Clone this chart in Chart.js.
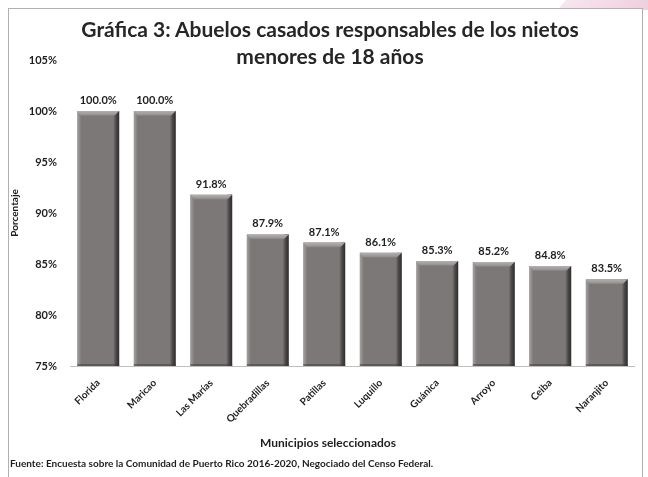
<!DOCTYPE html>
<html>
<head>
<meta charset="utf-8">
<script src="https://cdn.jsdelivr.net/npm/chart.js@4"></script>
<style>
    body { margin: 0; background: #fff; font-family: Lato, "Open Sans", sans-serif; }
    #wrap { position: relative; width: 648px; height: 477px; overflow: hidden; background: #fff; }
    #deco { position: absolute; left: 570px; top: -20px; width: 120px; height: 30px; background: linear-gradient(90deg, #f6e6ee, #eec6d8); transform: skewX(-40deg); }
    #frame { position: absolute; left: 8px; top: 8px; width: 633px; height: 480px; border: 1px solid #b0b0b0; background: #fff; }
    #title { position: absolute; left: 0; width: 660px; top: 15px; text-align: center; font-weight: bold; font-size: 21px; line-height: 27px; color: #262626; }
    #xtitle { position: absolute; left: 228px; width: 200px; top: 435px; text-align: center; font-weight: bold; font-size: 12px; color: #1e1e1e; }
    #source { position: absolute; left: 10px; top: 457px; font-weight: bold; font-size: 10px; color: #1e1e1e; }
    canvas { position: absolute; left: 0; top: 0; }
</style>
</head>
<body>
<div id="wrap">
    <div id="deco"></div>
    <div id="frame"></div>
    <canvas id="chartCanvas" width="648" height="477"></canvas>
    <div id="title">Gráfica 3: Abuelos casados responsables de los nietos<br>menores de 18 años</div>
    <div id="xtitle">Municipios seleccionados</div>
    <div id="source">Fuente: Encuesta sobre la Comunidad de Puerto Rico 2016-2020, Negociado del Censo Federal.</div>
</div>
<script>
const municipios = ["Florida", "Maricao", "Las Marías", "Quebradillas", "Patillas", "Luquillo", "Guánica", "Arroyo", "Ceiba", "Naranjito"];
const porcentajes = [100.0, 100.0, 91.8, 87.9, 87.1, 86.1, 85.3, 85.2, 84.8, 83.5];
const yTicks = [75, 80, 85, 90, 95, 100, 105];

const textColor = "#1e1e1e";

// bevel look on each bar + value labels
const barStyle = {
    id: "barStyle",
    afterDatasetsDraw(chart) {
        const ctx = chart.ctx;
        const meta = chart.getDatasetMeta(0);
        meta.data.forEach((bar, i) => {
            const left = bar.x - bar.width / 2;
            const right = bar.x + bar.width / 2;
            const top = bar.y;
            const bottom = Math.min(bar.base, chart.chartArea.bottom);
            ctx.save();
            // right dark edge
            let g = ctx.createLinearGradient(right - 6, 0, right, 0);
            g.addColorStop(0, "rgba(60,58,58,0)");
            g.addColorStop(0.5, "rgba(60,58,58,0.8)");
            g.addColorStop(1, "#2e2c2c");
            ctx.fillStyle = g;
            ctx.fillRect(right - 6, top, 6, bottom - top);
            // left light edge
            g = ctx.createLinearGradient(left, 0, left + 4, 0);
            g.addColorStop(0, "rgba(170,165,165,0.9)");
            g.addColorStop(1, "rgba(170,165,165,0)");
            ctx.fillStyle = g;
            ctx.fillRect(left, top, 4, bottom - top);
            // top bevel
            g = ctx.createLinearGradient(0, top, 0, top + 6);
            g.addColorStop(0, "#b5b0b0");
            g.addColorStop(0.6, "#9a9595");
            g.addColorStop(1, "rgba(125,120,120,0)");
            ctx.fillStyle = g;
            ctx.beginPath();
            ctx.moveTo(left, top);
            ctx.lineTo(right, top);
            ctx.lineTo(right - 5, top + 5);
            ctx.lineTo(left + 4, top + 5);
            ctx.closePath();
            ctx.fill();
            // bottom shade
            ctx.fillStyle = "rgba(60,58,58,0.5)";
            ctx.fillRect(left, bottom - 2, bar.width, 2);
            // label
            ctx.fillStyle = textColor;
            ctx.font = "bold 11px Lato, 'Open Sans', sans-serif";
            ctx.textAlign = "center";
            ctx.textBaseline = "bottom";
            ctx.fillText(porcentajes[i].toFixed(1) + "%", bar.x, top - 5);
            ctx.restore();
        });
        // axis line on top
        const a = chart.chartArea;
        ctx.save();
        ctx.strokeStyle = "#bfbfbf";
        ctx.lineWidth = 1;
        ctx.beginPath();
        ctx.moveTo(a.left, Math.round(a.bottom) + 0.5);
        ctx.lineTo(a.right, Math.round(a.bottom) + 0.5);
        ctx.stroke();
        ctx.restore();
    }
};

const ctx = document.getElementById("chartCanvas").getContext("2d");
new Chart(ctx, {
    type: "bar",
    data: {
        labels: municipios,
        datasets: [{
            data: porcentajes,
            backgroundColor: "#7d7878",
            borderWidth: 0,
            categoryPercentage: 1,
            barPercentage: 0.74
        }]
    },
    options: {
        responsive: false,
        animation: false,
        layout: { padding: { top: 60, left: 9, right: 13, bottom: 30 } },
        plugins: {
            legend: { display: false },
            tooltip: { enabled: false },
            title: { display: false }
        },
        scales: {
            x: {
                grid: { display: false },
                border: { display: false },
                ticks: {
                    color: textColor,
                    font: { family: "Lato", size: 10, weight: "bold" },
                    minRotation: 45,
                    maxRotation: 45,
                    padding: 3
                },
                afterFit(scale) { scale.height = 81; }
            },
            y: {
                min: yTicks[0],
                max: yTicks[yTicks.length - 1],
                afterBuildTicks(scale) { scale.ticks = yTicks.map(v => ({ value: v })); },
                grid: { display: false },
                border: { display: false },
                ticks: {
                    color: textColor,
                    font: { family: "Lato", size: 11, weight: "bold" },
                    padding: 5,
                    callback: v => v + "%"
                },
                title: {
                    display: true,
                    text: "Porcentaje",
                    color: textColor,
                    font: { family: "Lato", size: 10, weight: "bold" },
                    padding: { top: 0, bottom: 0 }
                },
                afterFit(scale) { scale.width = 61; }
            }
        }
    },
    plugins: [barStyle]
});
</script>
</body>
</html>
